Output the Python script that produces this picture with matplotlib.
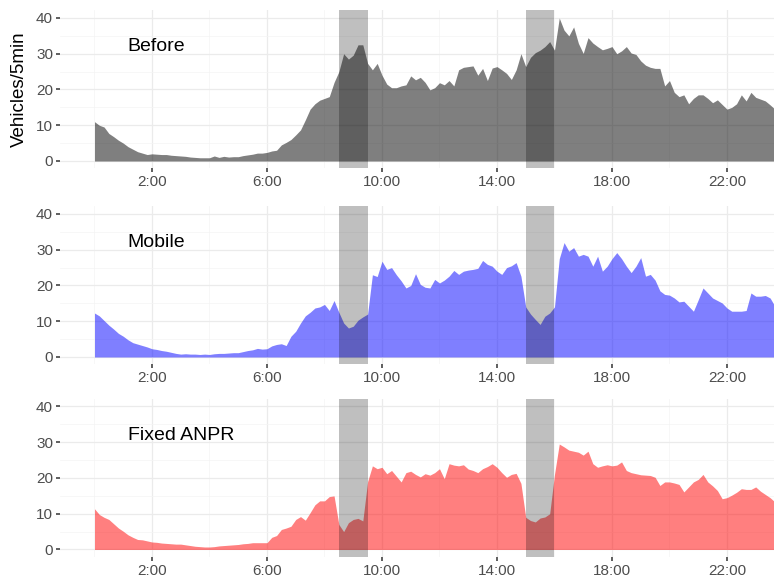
import numpy as np
import matplotlib
matplotlib.use("Agg")
import matplotlib.pyplot as plt

plt.rcParams["font.family"] = ["Liberation Sans", "DejaVu Sans"]

# 10-minute samples, 00:00 .. 23:50
minutes = np.arange(0, 1440, 10)

before = [
    11.0, 10.0, 9.5, 7.7, 6.8, 5.8,
    5.0, 4.0, 3.3, 2.6, 2.2, 1.8,
    2.0, 1.9, 1.8, 1.8, 1.6, 1.5,
    1.4, 1.3, 1.1, 1.0, 0.9, 0.9,
    0.9, 1.4, 1.0, 1.3, 1.1, 1.2,
    1.2, 1.5, 1.7, 1.9, 2.2, 2.2,
    2.4, 2.8, 3.0, 4.5, 5.2, 6.0,
    7.3, 8.7, 11.5, 14.5, 16.0, 17.0,
    17.5, 18.0, 22.0, 25.0, 30.0, 28.5,
    29.6, 32.5, 32.5, 27.3, 25.5, 27.3,
    24.0, 21.5, 20.5, 20.5, 21.0, 21.3,
    23.8, 22.7, 23.4, 22.0, 19.9, 20.5,
    21.9, 21.3, 22.5, 21.0, 25.5, 26.2,
    26.4, 26.6, 24.0, 25.9, 22.5, 26.0,
    26.4, 25.5, 24.5, 22.8, 25.5, 30.0,
    26.4, 29.0, 30.3, 31.0, 32.0, 33.4,
    31.0, 40.0, 36.6, 35.0, 37.5, 32.9,
    30.1, 34.5, 33.0, 32.0, 31.1, 31.5,
    32.0, 30.0, 30.8, 32.0, 30.2, 29.8,
    28.0, 26.8, 26.2, 25.9, 25.9, 21.0,
    22.5, 19.2, 18.0, 18.5, 16.0, 17.5,
    18.5, 18.5, 17.5, 16.3, 17.1, 15.8,
    14.5, 15.0, 16.0, 18.5, 16.8, 19.2,
    17.8, 17.3, 16.8, 15.7, 14.5, 14.0,
]

mobile = [
    12.3, 11.5, 10.2, 8.9, 7.8, 6.6,
    5.8, 4.8, 4.0, 3.6, 3.2, 2.8,
    2.3, 2.1, 1.8, 1.6, 1.3, 1.0,
    0.8, 0.9, 0.8, 0.8, 0.7, 0.8,
    0.7, 0.9, 1.0, 1.0, 1.1, 1.2,
    1.2, 1.5, 1.8, 2.0, 2.4, 2.2,
    2.3, 3.1, 3.5, 3.7, 3.2, 5.8,
    7.2, 9.5, 11.5, 12.5, 13.7, 14.0,
    14.7, 13.0, 15.8, 12.5, 9.5, 8.1,
    8.6, 10.3, 11.2, 12.0, 23.0, 22.5,
    26.8, 24.5, 25.0, 23.0, 21.3, 19.3,
    20.0, 23.3, 20.3, 19.5, 19.3, 21.7,
    20.7, 21.5, 22.6, 24.2, 23.1, 24.0,
    24.3, 24.5, 24.8, 27.0, 25.9, 25.4,
    24.0, 23.1, 25.0, 25.5, 26.4, 22.6,
    14.0, 12.0, 10.5, 9.1, 11.4, 12.3,
    14.0, 27.5, 32.0, 29.6, 30.6, 28.2,
    28.7, 28.2, 25.4, 28.2, 24.0, 25.4,
    27.5, 29.2, 27.5, 25.4, 23.6, 25.4,
    27.8, 22.6, 23.1, 21.5, 18.5, 17.5,
    17.3, 16.5, 15.4, 15.6, 14.2, 12.8,
    16.0, 19.3, 17.9, 16.5, 15.8, 15.1,
    13.7, 12.8, 12.8, 12.8, 13.0, 17.9,
    17.0, 17.0, 17.2, 16.5, 14.2, 14.0,
]

fixed_anpr = [
    11.4, 9.8, 9.0, 8.4, 7.2, 6.0,
    5.1, 4.1, 3.4, 2.8, 2.7, 2.4,
    2.1, 2.0, 1.8, 1.7, 1.6, 1.5,
    1.5, 1.3, 1.1, 0.9, 0.8, 0.7,
    0.7, 0.8, 1.0, 1.1, 1.2, 1.3,
    1.4, 1.6, 1.7, 1.9, 1.9, 1.9,
    1.9, 3.4, 3.9, 5.6, 6.0, 6.5,
    8.4, 9.2, 8.2, 10.3, 12.5, 13.6,
    13.6, 14.8, 15.0, 7.0, 5.0, 7.5,
    8.4, 8.7, 8.0, 19.0, 23.4, 22.6,
    23.0, 21.2, 22.1, 20.5, 18.9, 21.5,
    21.9, 21.0, 20.3, 21.2, 20.8, 21.5,
    22.6, 19.8, 24.0, 23.6, 23.4, 23.7,
    22.5, 22.1, 21.5, 22.6, 23.2, 24.0,
    23.0, 21.5, 20.2, 21.0, 21.3, 18.5,
    9.0, 8.1, 7.7, 8.8, 9.1, 10.0,
    21.0, 29.5, 28.7, 27.8, 27.5, 27.2,
    26.4, 27.5, 24.0, 23.0, 23.4, 23.7,
    23.4, 23.6, 24.5, 22.1, 21.5, 21.2,
    20.9, 20.8, 20.7, 20.2, 17.9, 18.9,
    18.9, 18.6, 18.2, 16.1, 17.5, 18.9,
    19.6, 21.0, 18.9, 17.8, 16.5, 14.2,
    14.5, 15.2, 16.0, 17.0, 16.8, 16.8,
    17.5, 16.3, 15.4, 14.5, 13.3, 13.0,
]

panels = ["Before", "Mobile", "Fixed ANPR"]
series = [before, mobile, fixed_anpr]
fills = [(0, 0, 0, 0.5), (0, 0, 1, 0.5), (1, 0, 0, 0.5)]

# enforcement windows (hours)
windows = [(8.5, 9.5), (15.0, 16.0)]

x_ticks = [2, 6, 10, 14, 18, 22]
x_labels = ["2:00", "6:00", "10:00", "14:00", "18:00", "22:00"]
y_ticks = [0, 10, 20, 30, 40]

fig = plt.figure(figsize=(7.74, 5.79), dpi=100)
bottoms = [0.709, 0.3705, 0.038]
hours = minutes / 60

for name, vals, col, b in zip(panels, series, fills, bottoms):
    ax = fig.add_axes([0.0775, b, 0.9806, 0.2729])
    ax.fill_between(hours, 0, vals, color=col, linewidth=0, zorder=2)
    for x0, x1 in windows:
        ax.axvspan(x0, x1, color="black", alpha=0.25, linewidth=0, zorder=3)

    ax.set_xlim(-1.2, 25.2)
    ax.set_ylim(-2.1, 42.1)
    ax.set_xticks(x_ticks)
    ax.set_xticklabels(x_labels)
    ax.set_xticks([0, 4, 8, 12, 16, 20, 24], minor=True)
    ax.set_yticks(y_ticks)
    ax.set_yticks([5, 15, 25, 35], minor=True)
    ax.grid(which="major", color="#EBEBEB", linewidth=0.9, zorder=0)
    ax.grid(which="minor", color="#F4F4F4", linewidth=0.5, zorder=0)
    ax.set_axisbelow(True)
    for s in ax.spines.values():
        s.set_visible(False)
    ax.tick_params(which="major", length=3, width=1.1, color="#333333",
                   labelcolor="#4D4D4D", labelsize=11, pad=2)
    ax.tick_params(which="minor", length=0)
    ax.text(1.15, 32, name, ha="left", va="center", fontsize=14,
            color="black")

fig.text(0.025, 0.709 + 0.2729 / 2, "Vehicles/5min", rotation=90,
         ha="center", va="center", fontsize=13.5)

fig.savefig("out.png", dpi=100)
